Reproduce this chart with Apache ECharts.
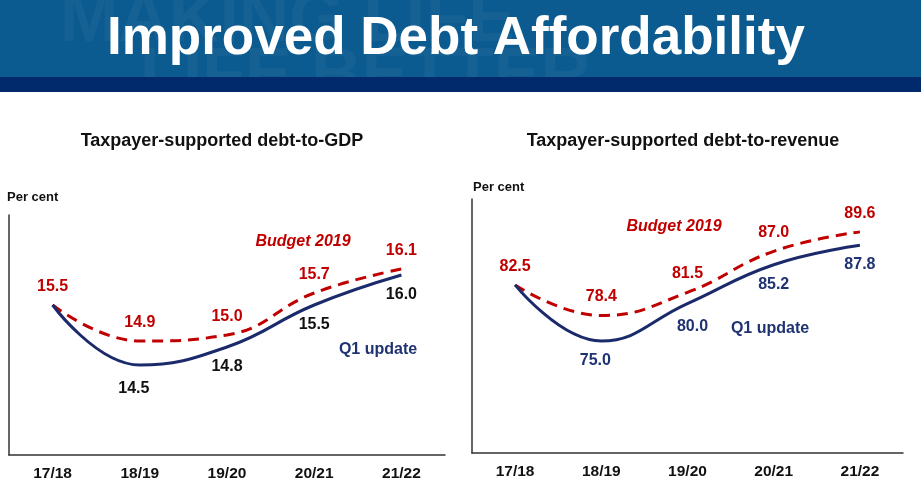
<!DOCTYPE html>
<html>
<head>
<meta charset="utf-8">
<script src="https://cdn.jsdelivr.net/npm/echarts@6/dist/echarts.min.js"></script>
<style>
html,body{margin:0;padding:0;background:#fff;}
#chart{width:921px;height:489px;}
</style>
</head>
<body>
<div id="chart"></div>
<script>
// ---- data ----
var categories = ['17/18', '18/19', '19/20', '20/21', '21/22'];
var gdpBudget2019 = [15.5, 14.9, 15.0, 15.7, 16.1];
var gdpQ1Update   = [15.5, 14.5, 14.8, 15.5, 16.0];
var revBudget2019 = [82.5, 78.4, 81.5, 87.0, 89.6];
var revQ1Update   = [82.5, 75.0, 80.0, 85.2, 87.8];

var mainTitle = 'Improved Debt Affordability';
var leftTitle = 'Taxpayer-supported debt-to-GDP';
var rightTitle = 'Taxpayer-supported debt-to-revenue';
var unitLabel = 'Per cent';
var budgetName = 'Budget 2019';
var q1Name = 'Q1 update';
var watermark1 = 'MAKING LIFE';
var watermark2 = 'LIFE BETTER';

// ---- styling / layout ----
var RED = '#c00000';
var NAVY = '#1b2a6b';
var NAVY_TXT = '#1f3272';
var FONT = '"Liberation Sans", Arial, sans-serif';
// small label nudges [dx, dy] for the Q1 labels
var gdpQ1Nudge = [[0,0],[-6,4],[0,0],[0,0],[0,0]];
var revQ1Nudge = [[0,0],[-6,0],[5,4],[0,0],[0,0]];

function budgetData(arr) {
  return arr.map(function (v) { return { value: v }; });
}
function q1Data(arr, nudge) {
  return arr.map(function (v, i) {
    return { value: v, label: { show: i > 0, offset: nudge[i] } };
  });
}

var chart = echarts.init(document.getElementById('chart'), null, { renderer: 'canvas' });

var axisLineStyle = { show: true, lineStyle: { color: '#333', width: 1.5 } };
function xAxis(gi) {
  return {
    type: 'category', gridIndex: gi, data: categories, boundaryGap: true,
    axisLine: axisLineStyle, axisTick: { show: false },
    axisLabel: { color: '#111', fontFamily: FONT, fontWeight: 'bold', fontSize: 15.5, margin: 11 },
    splitLine: { show: false }
  };
}
function yAxis(gi, min, max) {
  return {
    type: 'value', gridIndex: gi, min: min, max: max,
    axisLine: axisLineStyle, axisTick: { show: false }, axisLabel: { show: false },
    splitLine: { show: false }
  };
}
var labelFmt = function (p) { return Number(p.value).toFixed(1); };
function budgetSeries(gi, arr) {
  return {
    type: 'line', xAxisIndex: gi, yAxisIndex: gi, data: budgetData(arr),
    smooth: 0.45, showSymbol: true, symbol: 'circle', symbolSize: 1,
    itemStyle: { color: 'rgba(0,0,0,0)', borderWidth: 0 },
    lineStyle: { color: RED, width: 3, type: [11, 7] },
    label: { show: true, position: 'top', distance: 10, color: RED,
      fontFamily: FONT, fontWeight: 'bold', fontSize: 16, formatter: labelFmt },
    z: 2
  };
}
function q1Series(gi, arr, nudge, txtColor) {
  return {
    type: 'line', xAxisIndex: gi, yAxisIndex: gi, data: q1Data(arr, nudge),
    smooth: 0.45, showSymbol: true, symbol: 'circle', symbolSize: 1,
    itemStyle: { color: 'rgba(0,0,0,0)', borderWidth: 0 },
    lineStyle: { color: NAVY, width: 3 },
    label: { show: true, position: 'bottom', distance: 11, color: txtColor,
      fontFamily: FONT, fontWeight: 'bold', fontSize: 16, formatter: labelFmt },
    z: 3
  };
}
function txt(x, y, s, opts) {
  var st = Object.assign({ x: x, y: y, text: s, fill: '#111',
    font: 'bold 13px ' + FONT, align: 'left', verticalAlign: 'middle' }, opts || {});
  return { type: 'text', z: 100, style: st, silent: true };
}

var option = {
  animation: false,
  backgroundColor: '#ffffff',
  grid: [
    { left: 9, top: 215, width: 436, height: 240 },
    { left: 472, top: 199, width: 431, height: 254 }
  ],
  xAxis: [xAxis(0), xAxis(1)],
  yAxis: [yAxis(0, 13, 17), yAxis(1, 60, 94)],
  series: [
    budgetSeries(0, gdpBudget2019),
    q1Series(0, gdpQ1Update, gdpQ1Nudge, '#111'),
    budgetSeries(1, revBudget2019),
    q1Series(1, revQ1Update, revQ1Nudge, NAVY_TXT)
  ],
  graphic: [
    { type: 'rect', shape: { x: 0, y: 0, width: 921, height: 77 }, style: { fill: '#0b5a90' }, silent: true, z: 1 },
    { type: 'text', z: 2, silent: true, style: { x: 60, y: 22, text: watermark1, fill: 'rgba(255,255,255,0.045)', font: 'bold 70px ' + FONT, verticalAlign: 'middle' } },
    { type: 'text', z: 2, silent: true, style: { x: 140, y: 78, text: watermark2, fill: 'rgba(255,255,255,0.045)', font: 'bold 70px ' + FONT, verticalAlign: 'middle' } },
    { type: 'rect', shape: { x: 0, y: 77, width: 921, height: 15 }, style: { fill: '#002a6b' }, silent: true, z: 3 },
    txt(107, 39, mainTitle, { fill: '#ffffff', font: 'bold 53px ' + FONT }),
    txt(222, 141, leftTitle, { font: 'bold 18px ' + FONT, align: 'center' }),
    txt(683, 141, rightTitle, { font: 'bold 18px ' + FONT, align: 'center' }),
    txt(7, 197, unitLabel),
    txt(473, 187, unitLabel),
    txt(303, 242, budgetName, { fill: RED, font: 'italic bold 16px ' + FONT, align: 'center' }),
    txt(674, 227, budgetName, { fill: RED, font: 'italic bold 16px ' + FONT, align: 'center' }),
    txt(378, 350, q1Name, { fill: NAVY_TXT, font: 'bold 16px ' + FONT, align: 'center' }),
    txt(770, 329, q1Name, { fill: NAVY_TXT, font: 'bold 16px ' + FONT, align: 'center' })
  ]
};
chart.setOption(option);
</script>
</body>
</html>
